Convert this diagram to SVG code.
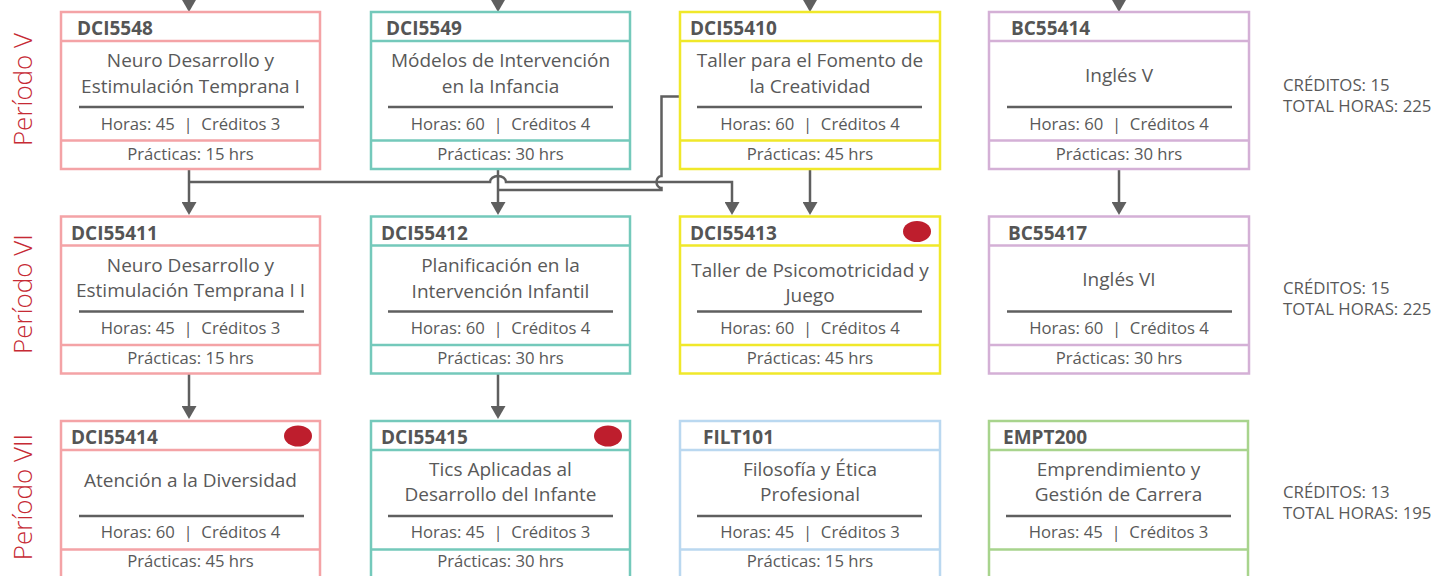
<svg xmlns="http://www.w3.org/2000/svg" width="1439" height="576" viewBox="0 0 1439 576">
<style>
  .bx{fill:#fff;stroke-width:2.5}
  .dv{stroke-width:2.5}
  .pk{stroke:#f4a3a6}
  .tl{stroke:#74c9bb}
  .yl{stroke:#f0e82a}
  .pu{stroke:#d4b0d6}
  .lb{stroke:#bad8f0}
  .gr{stroke:#a8d48d}
  .rule{stroke:#5f5f5f;stroke-width:2.5}
  text{font-family:"Open Sans","Noto Sans","DejaVu Sans",sans-serif;fill:#595959}
  .code{font-size:19px;font-weight:700;fill:#555}
  .ttl{font-size:19px;text-anchor:middle}
  .hrs{font-size:16.7px;text-anchor:middle}
  .sum{font-size:16.8px}
  .per{font-size:26px;font-weight:300;fill:#c62a34;text-anchor:middle}
  .dot{fill:#be1e2d}
  .cn{fill:none;stroke:#5f5f5f;stroke-width:2.5}
</style>
<defs>
  <marker id="ar" viewBox="0 0 13 15" refX="0" refY="7.5" markerWidth="13" markerHeight="15" markerUnits="userSpaceOnUse" orient="auto">
    <path d="M0,0 L13,7.5 L0,15 z" fill="#5f5f5f"/>
  </marker>
</defs>

<g id="periods">
  <text class="per" transform="translate(32,89.5) rotate(-90)">Período V</text>
  <text class="per" transform="translate(32,294) rotate(-90)">Período VI</text>
  <text class="per" transform="translate(32,497) rotate(-90)">Período VII</text>
</g>

<g id="connectors">
  <path class="cn" marker-end="url(#ar)" d="M189,-20 V-1"/>
  <path class="cn" marker-end="url(#ar)" d="M498,-20 V-1"/>
  <path class="cn" marker-end="url(#ar)" d="M810,-20 V-1"/>
  <path class="cn" marker-end="url(#ar)" d="M1119,-20 V-1"/>
  <path class="cn" marker-end="url(#ar)" d="M189,169 V202"/>
  <path class="cn" marker-end="url(#ar)" d="M189,182 H490 A8,6 0 0 1 506,182 H732 V202"/>
  <path class="cn" marker-end="url(#ar)" d="M498,169 V202"/>
  <path class="cn" d="M680,96.5 H661.5 V176 A5,6 0 0 0 661.5,188 V190 H498"/>
  <path class="cn" marker-end="url(#ar)" d="M810,169 V202"/>
  <path class="cn" marker-end="url(#ar)" d="M1119,169 V202"/>
  <path class="cn" marker-end="url(#ar)" d="M189,373 V406"/>
  <path class="cn" marker-end="url(#ar)" d="M498,373 V406"/>
</g>

<g id="DCI5548" transform="translate(61,12)">
  <rect class="bx pk" width="259" height="157"/>
  <path class="dv pk" d="M0,29 H259 M0,128.5 H259"/>
  <path class="rule" d="M18,95 H243"/>
  <text class="code" x="16" y="23">DCI5548</text>
  <text class="ttl" x="129.5" y="55">Neuro Desarrollo y</text>
  <text class="ttl" x="129.5" y="81">Estimulación Temprana I</text>
  <text class="hrs" x="129.5" y="117.5">Horas: 45&#160; |&#160; Créditos 3</text>
  <text class="hrs" x="129.5" y="147.5">Prácticas: 15 hrs</text>
</g>

<g id="DCI5549" transform="translate(371,12)">
  <rect class="bx tl" width="259" height="157"/>
  <path class="dv tl" d="M0,29 H259 M0,128.5 H259"/>
  <path class="rule" d="M17,95 H242"/>
  <text class="code" x="15" y="23">DCI5549</text>
  <text class="ttl" x="129.5" y="55">Módelos de Intervención</text>
  <text class="ttl" x="129.5" y="81">en la Infancia</text>
  <text class="hrs" x="129.5" y="117.5">Horas: 60&#160; |&#160; Créditos 4</text>
  <text class="hrs" x="129.5" y="147.5">Prácticas: 30 hrs</text>
</g>

<g id="DCI55410" transform="translate(680,12)">
  <rect class="bx yl" width="260" height="157"/>
  <path class="dv yl" d="M0,29 H260 M0,128.5 H260"/>
  <path class="rule" d="M17,95 H242"/>
  <text class="code" x="10" y="23">DCI55410</text>
  <text class="ttl" x="130" y="55">Taller para el Fomento de</text>
  <text class="ttl" x="130" y="81">la Creatividad</text>
  <text class="hrs" x="130" y="117.5">Horas: 60&#160; |&#160; Créditos 4</text>
  <text class="hrs" x="130" y="147.5">Prácticas: 45 hrs</text>
</g>

<g id="BC55414" transform="translate(989,12)">
  <rect class="bx pu" width="260" height="157"/>
  <path class="dv pu" d="M0,29 H260 M0,128.5 H260"/>
  <path class="rule" d="M18,95 H243"/>
  <text class="code" x="22" y="23">BC55414</text>
  <text class="ttl" x="130" y="70">Inglés V</text>
  <text class="hrs" x="130" y="117.5">Horas: 60&#160; |&#160; Créditos 4</text>
  <text class="hrs" x="130" y="147.5">Prácticas: 30 hrs</text>
</g>

<g id="DCI55411" transform="translate(61,216.5)">
  <rect class="bx pk" width="259" height="157"/>
  <path class="dv pk" d="M0,29 H259 M0,128.5 H259"/>
  <path class="rule" d="M18,95 H243"/>
  <text class="code" x="10" y="23">DCI55411</text>
  <text class="ttl" x="129.5" y="55">Neuro Desarrollo y</text>
  <text class="ttl" x="129.5" y="80.5">Estimulación Temprana I I</text>
  <text class="hrs" x="129.5" y="117">Horas: 45&#160; |&#160; Créditos 3</text>
  <text class="hrs" x="129.5" y="147">Prácticas: 15 hrs</text>
</g>

<g id="DCI55412" transform="translate(371,216.5)">
  <rect class="bx tl" width="259" height="157"/>
  <path class="dv tl" d="M0,29 H259 M0,128.5 H259"/>
  <path class="rule" d="M17,95 H242"/>
  <text class="code" x="10" y="23">DCI55412</text>
  <text class="ttl" x="129.5" y="55">Planificación en la</text>
  <text class="ttl" x="129.5" y="81">Intervención Infantil</text>
  <text class="hrs" x="129.5" y="117">Horas: 60&#160; |&#160; Créditos 4</text>
  <text class="hrs" x="129.5" y="147">Prácticas: 30 hrs</text>
</g>

<g id="DCI55413" transform="translate(680,216.5)">
  <rect class="bx yl" width="260" height="157"/>
  <path class="dv yl" d="M0,29 H260 M0,128.5 H260"/>
  <path class="rule" d="M17,95 H242"/>
  <text class="code" x="10" y="23">DCI55413</text>
  <ellipse class="dot" cx="237" cy="15" rx="14" ry="10.5"/>
  <text class="ttl" x="130" y="60">Taller de Psicomotricidad y</text>
  <text class="ttl" x="130" y="85">Juego</text>
  <text class="hrs" x="130" y="117">Horas: 60&#160; |&#160; Créditos 4</text>
  <text class="hrs" x="130" y="147">Prácticas: 45 hrs</text>
</g>

<g id="BC55417" transform="translate(989,216.5)">
  <rect class="bx pu" width="260" height="157"/>
  <path class="dv pu" d="M0,29 H260 M0,128.5 H260"/>
  <path class="rule" d="M18,95 H243"/>
  <text class="code" x="19" y="23">BC55417</text>
  <text class="ttl" x="130" y="69.5">Inglés VI</text>
  <text class="hrs" x="130" y="117">Horas: 60&#160; |&#160; Créditos 4</text>
  <text class="hrs" x="130" y="147">Prácticas: 30 hrs</text>
</g>

<g id="DCI55414" transform="translate(61,421)">
  <rect class="bx pk" width="259" height="157"/>
  <path class="dv pk" d="M0,29 H259 M0,128.5 H259"/>
  <path class="rule" d="M18,95 H243"/>
  <text class="code" x="10" y="23">DCI55414</text>
  <ellipse class="dot" cx="237" cy="15" rx="14" ry="10.5"/>
  <text class="ttl" x="129.5" y="66">Atención a la Diversidad</text>
  <text class="hrs" x="129.5" y="117">Horas: 60&#160; |&#160; Créditos 4</text>
  <text class="hrs" x="129.5" y="146">Prácticas: 45 hrs</text>
</g>

<g id="DCI55415" transform="translate(371,421)">
  <rect class="bx tl" width="259" height="157"/>
  <path class="dv tl" d="M0,29 H259 M0,128.5 H259"/>
  <path class="rule" d="M17,95 H242"/>
  <text class="code" x="10" y="23">DCI55415</text>
  <ellipse class="dot" cx="237" cy="15" rx="14" ry="10.5"/>
  <text class="ttl" x="129.5" y="55">Tics Aplicadas al</text>
  <text class="ttl" x="129.5" y="79.5">Desarrollo del Infante</text>
  <text class="hrs" x="129.5" y="117">Horas: 45&#160; |&#160; Créditos 3</text>
  <text class="hrs" x="129.5" y="146">Prácticas: 30 hrs</text>
</g>

<g id="FILT101" transform="translate(680,421)">
  <rect class="bx lb" width="260" height="157"/>
  <path class="dv lb" d="M0,29 H260 M0,128.5 H260"/>
  <path class="rule" d="M17,95 H242"/>
  <text class="code" x="23" y="23">FILT101</text>
  <text class="ttl" x="130" y="54.5">Filosofía y Ética</text>
  <text class="ttl" x="130" y="79.5">Profesional</text>
  <text class="hrs" x="130" y="117">Horas: 45&#160; |&#160; Créditos 3</text>
  <text class="hrs" x="130" y="146">Prácticas: 15 hrs</text>
</g>

<g id="EMPT200" transform="translate(989,421)">
  <rect class="bx gr" width="259" height="157"/>
  <path class="dv gr" d="M0,29 H259 M0,128.5 H259"/>
  <path class="rule" d="M17,95 H242"/>
  <text class="code" x="14" y="23">EMPT200</text>
  <text class="ttl" x="129.5" y="55">Emprendimiento y</text>
  <text class="ttl" x="129.5" y="79.5">Gestión de Carrera</text>
  <text class="hrs" x="129.5" y="117">Horas: 45&#160; |&#160; Créditos 3</text>
</g>

<g id="summaries">
  <text class="sum" x="1283" y="91">CRÉDITOS: 15<tspan x="1283" dy="21">TOTAL HORAS: 225</tspan></text>
  <text class="sum" x="1283" y="294">CRÉDITOS: 15<tspan x="1283" dy="21">TOTAL HORAS: 225</tspan></text>
  <text class="sum" x="1283" y="498">CRÉDITOS: 13<tspan x="1283" dy="21">TOTAL HORAS: 195</tspan></text>
</g>
</svg>
